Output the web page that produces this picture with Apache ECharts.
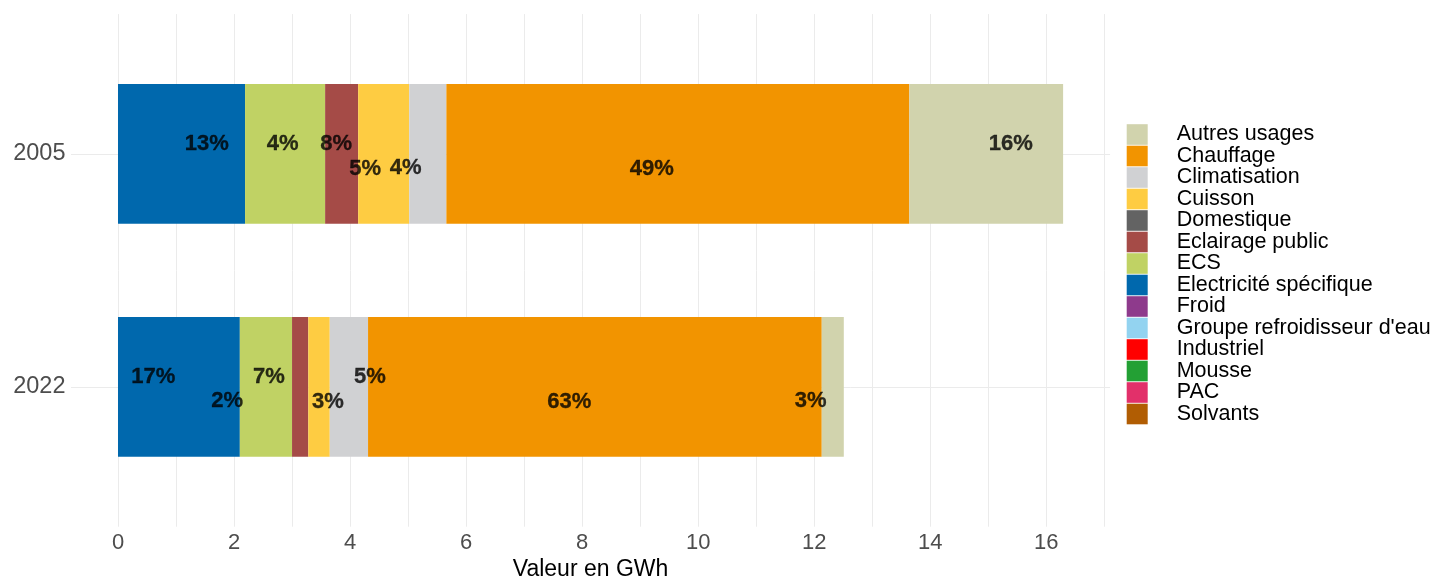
<!DOCTYPE html>
<html>
<head>
<meta charset="utf-8">
<script src="https://cdn.jsdelivr.net/npm/echarts@6/dist/echarts.min.js"></script>
<style>
  html, body { margin: 0; padding: 0; background: #fff; }
  #chart { width: 1437px; height: 576px; }
</style>
</head>
<body>
<div id="chart"></div>
<script>
// ---------- DATA ----------
const years = ['2005', '2022'];
const stackOrder = ['Electricité spécifique', 'ECS', 'Eclairage public', 'Cuisson', 'Climatisation', 'Chauffage', 'Autres usages'];
const emptyUsages = ['Domestique', 'Froid', "Groupe refroidisseur d'eau", 'Industriel', 'Mousse', 'PAC', 'Solvants'];
const legendOrder = ['Autres usages', 'Chauffage', 'Climatisation', 'Cuisson', 'Domestique', 'Eclairage public', 'ECS',
  'Electricité spécifique', 'Froid', "Groupe refroidisseur d'eau", 'Industriel', 'Mousse', 'PAC', 'Solvants'];

// values in GWh, [2005, 2022]
const elecSpecifique = [2.19, 2.10];
const ecs = [1.38, 0.90];
const eclairagePublic = [0.57, 0.28];
const cuisson = [0.88, 0.37];
const climatisation = [0.64, 0.66];
const chauffage = [7.98, 7.82];
const autresUsages = [2.65, 0.38];

// percentage labels and their anchor values (GWh) along the bar
const labels2005 = ['13%', '4%', '8%', '5%', '4%', '49%', '16%'];
const labelAt2005 = [1.53, 2.84, 3.76, 4.26, 4.96, 9.20, 15.39];
const labels2022 = ['17%', '2%', '7%', '3%', '5%', '63%', '3%'];
const labelAt2022 = [0.61, 1.88, 2.60, 3.62, 4.34, 7.78, 11.94];

const xTicks = [0, 2, 4, 6, 8, 10, 12, 14, 16];
const xMinorTicks = [1, 3, 5, 7, 9, 11, 13, 15, 17];

// ---------- STYLE ----------
const palette = {
  'Autres usages': '#D1D3AD',
  'Chauffage': '#F29400',
  'Climatisation': '#D0D1D3',
  'Cuisson': '#FECC42',
  'Domestique': '#636363',
  'Eclairage public': '#A54B47',
  'ECS': '#C0D264',
  'Electricité spécifique': '#0068AD',
  'Froid': '#8E3A8C',
  "Groupe refroidisseur d'eau": '#93D3F0',
  'Industriel': '#FF0000',
  'Mousse': '#23A034',
  'PAC': '#E2306A',
  'Solvants': '#B15D03'
};
const valuesByUsage = {
  'Electricité spécifique': elecSpecifique,
  'ECS': ecs,
  'Eclairage public': eclairagePublic,
  'Cuisson': cuisson,
  'Climatisation': climatisation,
  'Chauffage': chauffage,
  'Autres usages': autresUsages
};
const nudge2005 = [-10, -10, -10, 15, 14.5, 15, -10];
const nudge2022 = [-9.5, 14, -9.5, 15.5, -9.5, 15.5, 14];

const FONT = '"Liberation Sans", Arial, Helvetica, sans-serif';
const xMin = -0.81, xMax = 17.1;

const chart = echarts.init(document.getElementById('chart'), null, { renderer: 'canvas' });

const barSeries = stackOrder.map(name => ({
  name: name,
  type: 'bar',
  stack: 'total',
  xAxisIndex: 0,
  yAxisIndex: 0,
  barWidth: '60%',
  itemStyle: { color: palette[name] },
  z: 3,
  data: valuesByUsage[name]
}));
const emptySeries = emptyUsages.map(name => ({
  name: name,
  type: 'bar',
  stack: 'total',
  xAxisIndex: 0,
  yAxisIndex: 0,
  itemStyle: { color: palette[name] },
  data: []
}));

const labelData = [];
labels2005.forEach((t, i) => labelData.push({ value: [labelAt2005[i], years[0]], text: t, label: { offset: [0, nudge2005[i]] } }));
labels2022.forEach((t, i) => labelData.push({ value: [labelAt2022[i], years[1]], text: t, label: { offset: [0, nudge2022[i]] } }));

const gridLineSeries = {
  type: 'line',
  xAxisIndex: 1,
  yAxisIndex: 1,
  data: [],
  silent: true,
  z: 0,
  markLine: {
    z: 0,
    silent: true,
    symbol: 'none',
    animation: false,
    label: { show: false },
    lineStyle: { color: '#EBEBEB', width: 1, type: 'solid' },
    emphasis: { disabled: true },
    data: [
      ...xTicks.map(v => ({ xAxis: v })),
      ...xMinorTicks.map(v => ({ xAxis: v })),
      ...years.map((y, i) => ({ yAxis: i + 1 }))
    ]
  }
};

chart.setOption({
  animation: false,
  backgroundColor: '#ffffff',
  textStyle: { fontFamily: FONT },
  grid: [
    { left: 71, right: 326.9, top: 37.4, bottom: 72.6, containLabel: false, outerBoundsMode: 'none' },
    { left: 71, right: 326.9, top: 14.1, bottom: 49.3, containLabel: false, outerBoundsMode: 'none' }
  ],
  xAxis: [
    { type: 'value', gridIndex: 0, min: xMin, max: xMax, show: false },
    {
      type: 'value', gridIndex: 1, min: xMin, max: xMax,
      axisLine: { show: false }, axisTick: { show: false }, splitLine: { show: false },
      axisLabel: { customValues: xTicks, color: '#4D4D4D', fontSize: 22, fontFamily: FONT, margin: 5 },
      name: 'Valeur en GWh', nameLocation: 'middle', nameGap: 29,
      nameTextStyle: { color: '#000', fontSize: 23, fontFamily: FONT }
    }
  ],
  yAxis: [
    {
      type: 'category', gridIndex: 0, data: years, inverse: true,
      axisLine: { show: false }, axisTick: { show: false }, splitLine: { show: false },
      axisLabel: { color: '#4D4D4D', fontSize: 23.5, fontFamily: FONT, margin: 5.5, padding: [3, 0, 0, 0] }
    },
    { type: 'value', gridIndex: 1, min: 0.4, max: 2.6, inverse: true, show: false }
  ],
  legend: {
    data: legendOrder,
    orient: 'vertical',
    left: 1126.7,
    top: 123.5,
    padding: 0,
    icon: 'rect',
    itemWidth: 21,
    itemHeight: 20.6,
    itemGap: -0.5,
    selectedMode: false,
    textStyle: { color: '#000', fontSize: 21.5, fontFamily: FONT, lineHeight: 20.6, padding: [0, 0, 0, 24] }
  },
  series: [
    gridLineSeries,
    ...barSeries,
    ...emptySeries,
    {
      type: 'scatter',
      xAxisIndex: 0,
      yAxisIndex: 0,
      symbolSize: 1,
      itemStyle: { color: 'rgba(0,0,0,0)' },
      silent: true,
      z: 5,
      label: {
        show: true,
        position: 'inside',
        color: '#000000',
        fontWeight: 'bold',
        fontSize: 22,
        fontFamily: FONT,
        textBorderColor: '#000000',
        textBorderWidth: 0.3,
        formatter: p => p.data.text
      },
      data: labelData
    }
  ]
});
</script>
</body>
</html>
